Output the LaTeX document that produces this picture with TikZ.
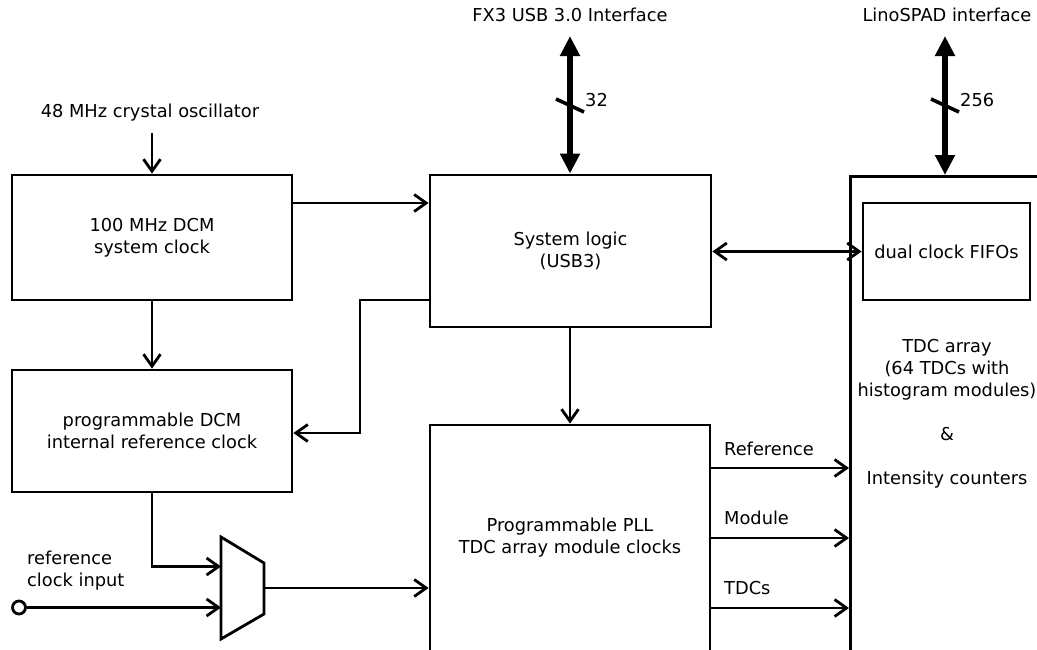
\documentclass[tikz,border=0pt]{standalone}
\usepackage{fontspec}
\setmainfont{DejaVu Sans}
\usetikzlibrary{arrows.meta}
\begin{document}
\begin{tikzpicture}[x=1pt,y=-1pt,
  every node/.style={font=\fontsize{17.8}{22}\selectfont},
  box/.style={draw, line width=2.8pt, rectangle, inner sep=0pt, align=center},
  txt/.style={inner sep=0pt, align=center},
  arr/.style={line width=2.8pt, -{Straight Barb[length=12pt,width=17pt,line width=2.8pt]}},
  darr/.style={line width=2.8pt, {Straight Barb[length=12pt,width=17pt,line width=2.8pt]}-{Straight Barb[length=12pt,width=17pt,line width=2.8pt]}},
  bus/.style={line width=5.5pt, {Triangle[length=20pt,width=19pt]}-{Triangle[length=20pt,width=19pt]}},
  slash/.style={line width=3.6pt}
]
\useasboundingbox (0,0) rectangle (1037,649);
\clip (0,0) rectangle (1037,649);
\fill[white] (0,0) rectangle (1037,649);

% boxes
\node[box, minimum width=280pt, minimum height=125pt] (sysclk) at (152,237.5) {100 MHz DCM\\system clock};
\node[box, minimum width=280pt, minimum height=122pt] (refclk) at (152,431) {programmable DCM\\internal reference clock};
\node[box, minimum width=281pt, minimum height=152pt] (sys) at (570.5,251) {System logic\\(USB3)};
\node[box, minimum width=280pt, minimum height=226pt] (pll) at (570,538) {Programmable PLL\\TDC array module clocks};
\node[box, minimum width=220pt, minimum height=500pt, anchor=north west] (tdc) at (849,175) {};
\node[box, minimum width=167pt, minimum height=97pt] (fifo) at (946.5,251.5) {dual clock FIFOs};
\node[txt] (tdctxt) at (947,413.5) {TDC array\\(64 TDCs with\\histogram modules)\\[22pt]\&\\[22pt]Intensity counters};

% top labels
\node[txt] (osc) at (150,113) {48 MHz crystal oscillator};
\coordinate (oscin) at (152,133);
\node[txt] (fx3) at (570,15) {FX3 USB 3.0 Interface};
\node[txt] (lino) at (947,15) {LinoSPAD interface};
\coordinate (fx3end) at (570,36);
\coordinate (linoend) at (945,36);

% connectors
\draw[arr] (oscin) -- (sysclk.north);
\draw[arr] (sysclk.east |- 0,203) -- (sys.west |- 0,203);
\draw[arr] (sysclk.south) -- (refclk.north);
\coordinate (fbA) at (360,300);
\coordinate (fbB) at (360,433);
\draw[arr] (sys.west |- fbA) -- (fbA) -- (fbB) -- (refclk.east |- fbB);
\draw[arr] (sys.south -| 570,0) -- (pll.north -| 570,0);
\draw[darr] (sys.east |- fifo.west) -- (fifo.west);

% buses
\draw[bus] (fx3end) -- (sys.north -| fx3end);
\draw[slash] (556,99) -- (584,112);
\node[txt, anchor=west] (w32) at (585,100) {32};
\draw[bus] (linoend) -- (tdc.north -| linoend);
\draw[slash] (931,99) -- (959,112);
\node[txt, anchor=west] (w256) at (960,100) {256};

% PLL outputs
\node[txt, anchor=west] (lref) at (724,449) {Reference};
\node[txt, anchor=west] (lmod) at (724,518) {Module};
\node[txt, anchor=west] (ltdc) at (724,588) {TDCs};
\draw[arr] (pll.east |- 0,468) -- (tdc.west |- 0,468);
\draw[arr] (pll.east |- 0,538) -- (tdc.west |- 0,538);
\draw[arr] (pll.east |- 0,608) -- (tdc.west |- 0,608);

% multiplexer
\draw[line width=2.8pt, line join=miter] (221,537) -- (264,563) -- (264,614) -- (221,639) -- cycle;
\coordinate (muxin1) at (221,566.5);
\coordinate (muxin2) at (221,607.5);
\coordinate (muxout) at (264,588);
\draw[arr] (refclk.south) |- (muxin1);
\node[draw, circle, line width=2.8pt, minimum size=13pt, inner sep=0pt] (clkin) at (19,607.5) {};
\node[txt, anchor=west, align=left] (lclk) at (27,571) {reference\\clock input};
\draw[arr] (clkin.east) -- (muxin2);
\draw[arr] (muxout) -- (pll.west |- muxout);
\end{tikzpicture}
\end{document}
